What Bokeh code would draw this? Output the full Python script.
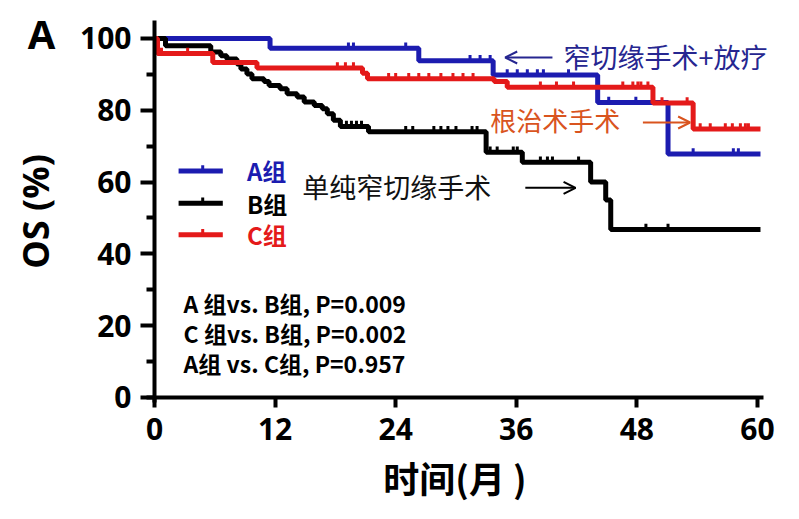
import numpy as np
from bokeh.plotting import figure
from bokeh.models import Range1d, FixedTicker, Label, Arrow, OpenHead, LinearAxis, Grid
from bokeh.embed import file_html
from bokeh.resources import INLINE

# ---- data ----
x_ticks = [0, 12, 24, 36, 48, 60]
y_ticks = [0, 20, 40, 60, 80, 100]
y_minor = [10, 30, 50, 70, 90]

times_A = [0, 11.5, 26.3, 33.7, 44.1, 51.1, 60.3]
surv_A = [100, 97.3, 93.8, 89.8, 82.2, 67.8, 67.8]
cens_A = [19.3, 19.8, 25.0, 31.4, 32.4, 33.4, 35.1, 36.1, 37.1, 38.1, 38.7,
          41.2, 45.2, 47.9, 53.6, 57.6, 58.1]

times_B = [0, 1.1, 5.6, 6.6, 7.2, 8.2, 8.6, 9.2, 9.7, 10.9, 11.4, 12.5, 13.2,
           14.2, 14.9, 15.9, 16.7, 17.2, 17.8, 18.5, 21.3, 33.0, 36.6, 43.4,
           44.9, 45.4, 60.3]
surv_B = [100, 98.0, 96.2, 95.2, 94.3, 92.9, 91.5, 90.1, 88.8, 88.0, 86.9,
          86.0, 84.6, 83.7, 82.3, 81.3, 80.4, 79.0, 77.2, 75.5, 74.0, 68.3,
          65.5, 60.0, 55.0, 46.8, 46.8]
cens_B = [19.1, 19.6, 20.1, 20.6, 25.0, 25.7, 27.8, 28.5, 29.2, 30.0, 31.6,
          32.1, 33.4, 34.1, 35.7, 36.1, 38.4, 39.1, 39.6, 42.2, 48.9, 51.1]

times_C = [0, 0.3, 5.8, 10.2, 20.7, 21.2, 33.8, 35.1, 49.6, 53.6, 60.3]
surv_C = [100, 95.8, 93.3, 91.8, 90.3, 88.8, 88.0, 86.4, 82.0, 74.8, 74.8]
cens_C = [0.7, 3.3, 18.2, 19.0, 19.8, 23.3, 24.0, 25.3, 26.3, 27.3, 28.5,
          29.7, 30.7, 31.7, 38.4, 40.0, 41.7, 46.6, 47.6, 48.1, 48.4, 49.1,
          50.5, 53.0, 54.3, 55.3, 56.8, 57.5, 58.3, 58.8, 59.1]

legend_names = ["A组", "B组", "C组"]
legend_y = [63.1, 54.1, 45.3]
stats_lines = ["A 组vs. B组, P=0.009", "C 组vs. B组, P=0.002", "A组 vs. C组, P=0.957"]
stats_y = [26.4, 18.0, 9.6]

BLUE = "#1c1cb0"
BLACK = "#000000"
RED = "#e41a1a"
ORANGE = "#d9541e"
DARKBLUE = "#262690"
colors = [BLUE, BLACK, RED]

CJK = "Noto Sans CJK SC"
LAT = "Open Sans"

# frame covers the whole canvas; axes are pinned at x=0 / y=0
p = figure(width=783, height=503, output_backend="svg", toolbar_location=None,
           x_range=Range1d(-15.32, 62.59), y_range=Range1d(-29.53, 110.58),
           x_axis_location=None, y_axis_location=None,
           min_border_left=0, min_border_right=0, min_border_top=0,
           min_border_bottom=0)
for r in list(p.center):
    if isinstance(r, Grid):
        r.visible = False
p.outline_line_color = None
p.background_fill_color = "white"
p.border_fill_color = "white"

xax = LinearAxis(fixed_location=0, bounds=(-0.8, 60.6), ticker=FixedTicker(ticks=x_ticks))
yax = LinearAxis(fixed_location=0, bounds=(-1.5, 105.0),
                 ticker=FixedTicker(ticks=y_ticks, minor_ticks=y_minor))
for ax in (xax, yax):
    ax.axis_line_width = 4
    ax.major_tick_line_width = 4
    ax.minor_tick_line_width = 4
    ax.major_tick_in = 0
    ax.minor_tick_in = 0
    ax.major_label_text_font = LAT
    ax.major_label_text_font_style = "bold"
    ax.major_label_text_font_size = "30px"
    ax.major_label_text_color = "black"
    ax.axis_label_text_color = "black"

xax.major_tick_out = 10
xax.minor_tick_out = 0
xax.major_label_standoff = 11
xax.axis_label = "时间(月 )"
xax.axis_label_text_font = CJK
xax.axis_label_text_font_style = "bold"
xax.axis_label_text_font_size = "36px"
xax.axis_label_standoff = 7

yax.major_tick_out = 14
yax.minor_tick_out = 8
yax.major_label_standoff = 9
yax.axis_label = "OS (%)"
yax.axis_label_text_font = LAT
yax.axis_label_text_font_style = "bold"
yax.axis_label_text_font_size = "36px"
yax.axis_label_standoff = 17

p.add_layout(xax, "below")
p.add_layout(yax, "left")


def level_at(times, surv, t):
    idx = np.searchsorted(np.array(times), np.array(t), side="right") - 1
    return np.array(surv)[idx]


curves = [(times_A, surv_A, cens_A), (times_B, surv_B, cens_B), (times_C, surv_C, cens_C)]
for (tt, ss, cc), col in zip(curves, colors):
    p.step(tt, ss, mode="after", line_color=col, line_width=5)
    yy = level_at(tt, ss, cc)
    p.segment(x0=cc, y0=yy, x1=cc, y1=yy + 1.6, line_color=col, line_width=3)

# legend
for name, ly, col in zip(legend_names, legend_y, colors):
    p.segment(x0=[2.4], y0=[ly], x1=[6.8], y1=[ly], line_color=col, line_width=5)
    p.segment(x0=[4.8], y0=[ly], x1=[4.8], y1=[ly + 1.6], line_color=col, line_width=3)
    p.add_layout(Label(x=9.2, y=ly, text=name, text_font=CJK, text_font_style="bold",
                       text_font_size="24px", text_color=col, text_baseline="middle"))

for line, sy in zip(stats_lines, stats_y):
    p.add_layout(Label(x=2.9, y=sy, text=line, text_font=CJK, text_font_style="bold",
                       text_font_size="23px", text_color="black", text_baseline="middle"))

# annotations
p.add_layout(Label(x=40.7, y=95.0, text="窄切缘手术+放疗", text_font=CJK,
                   text_font_size="27px", text_color=DARKBLUE, text_baseline="middle"))
p.add_layout(Arrow(end=OpenHead(size=12, line_color=DARKBLUE, line_width=2),
                   x_start=39.6, y_start=94.7, x_end=34.9, y_end=94.7,
                   line_color=DARKBLUE, line_width=2))

p.add_layout(Label(x=33.4, y=77.4, text="根治术手术", text_font=CJK,
                   text_font_size="26px", text_color=ORANGE, text_baseline="middle"))
p.add_layout(Arrow(end=OpenHead(size=12, line_color=ORANGE, line_width=2),
                   x_start=48.6, y_start=76.6, x_end=53.3, y_end=76.6,
                   line_color=ORANGE, line_width=2))

p.add_layout(Label(x=14.7, y=58.7, text="单纯窄切缘手术", text_font=CJK,
                   text_font_size="27px", text_color="#111111", text_baseline="middle"))
p.add_layout(Arrow(end=OpenHead(size=12, line_color="black", line_width=2),
                   x_start=36.9, y_start=58.4, x_end=41.9, y_end=58.4,
                   line_color="black", line_width=2))

p.add_layout(Label(x=-12.6, y=101.4, text="A", text_font=LAT, text_font_style="bold",
                   text_font_size="40px", text_color="black", text_baseline="middle"))

open("out.html", "w").write(file_html(p, INLINE))
